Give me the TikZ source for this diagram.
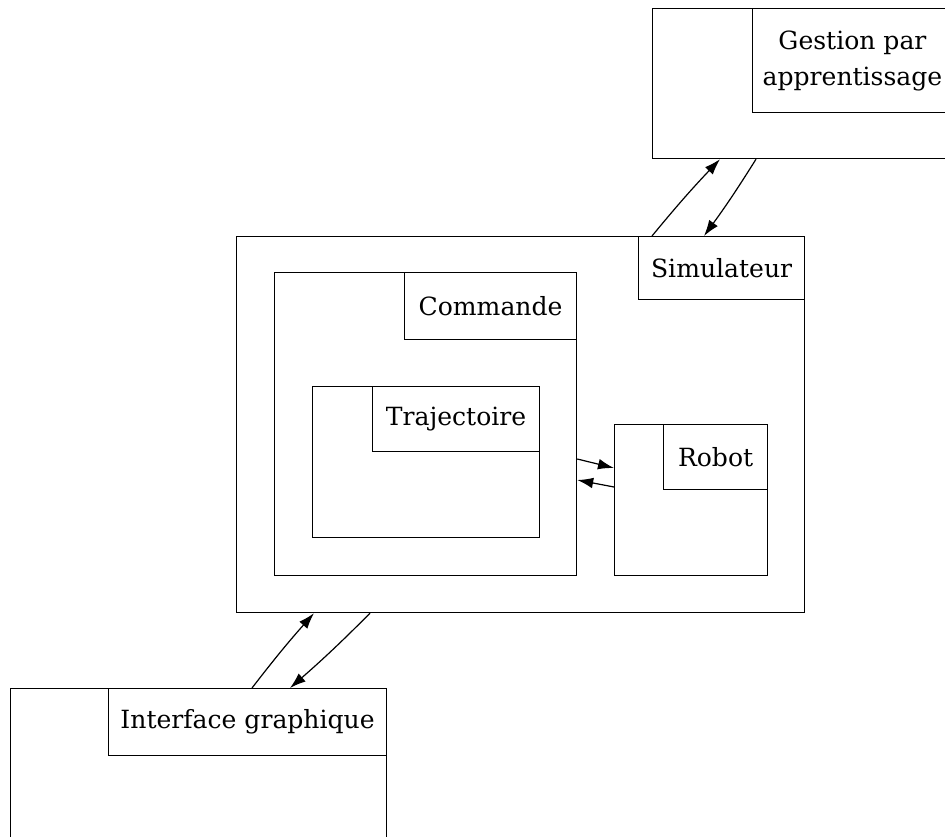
\documentclass[tikz,border=0pt]{standalone}
\usepackage{fontspec}
\setmainfont{DejaVu Serif}
\usetikzlibrary{positioning,calc,arrows.meta}

\begin{document}
\begin{tikzpicture}[x=0.75pt,y=-0.75pt,
		bloc/.style={draw=black, line width=0.9pt, inner sep=0pt, anchor=north west},
		titre/.style={draw=black, line width=0.9pt, inner sep=0pt, anchor=north east, align=center, font=\fontsize{18.8}{27}\selectfont},
		fleche/.style={-{Latex[length=12pt,width=8pt]}, line width=0.9pt}]
		\useasboundingbox (0,0) rectangle (945,837);
		\node[bloc, minimum width=225pt, minimum height=112.5pt] (gest) at (652,8){};
		\node[titre, minimum width=150pt, minimum height=78pt] (gestt) at ([xshift=-0.1pt]gest.north east){Gestion par\\apprentissage};
		\node[bloc, minimum width=426pt, minimum height=282pt] (sim) at (236,236){};
		\node[titre, minimum width=124.5pt, minimum height=47.25pt] (simt) at (sim.north east){Simulateur};
		\node[bloc, minimum width=226.5pt, minimum height=227.25pt] (com) at (274,272){};
		\node[titre, minimum width=129pt, minimum height=50.25pt] (comt) at (com.north east){Commande};
		\node[bloc, minimum width=170.25pt, minimum height=113.25pt] (traj) at (312,386){};
		\node[titre, minimum width=125.25pt, minimum height=48.75pt] (trajt) at (traj.north east){Trajectoire};
		\node[bloc, minimum width=114.75pt, minimum height=113.25pt] (robot) at (614,424){};
		\node[titre, minimum width=78pt, minimum height=48.75pt] (robott) at (robot.north east){Robot};
		\node[bloc, minimum width=282pt, minimum height=120pt] (inter) at (10,688){};
		\node[titre, minimum width=208.5pt, minimum height=50.25pt] (intert) at (inter.north east){Interface graphique};
		
		\draw[fleche] ($(sim.north west)+(416,0)$) to[bend left=2] ($(gest.south west)+(68,0)$);
		\draw[fleche] ($(gest.south west)+(104,0)$) to[bend left=2] ($(sim.north west)+(468,0)$);
		\draw[fleche] ($(com.north east)+(0,187)$) -- ($(robot.north west)+(0,44)$);
		\draw[fleche] ($(robot.north west)+(0,63)$) -- ($(com.north east)+(0,208)$);
		\draw[fleche] ($(inter.north west)+(242,0)$) to[bend left=2] ($(sim.south west)+(78,0)$);
		\draw[fleche] ($(sim.south west)+(134,0)$) to[bend left=2] ($(inter.north west)+(280,0)$);
	\end{tikzpicture}
\end{document}
